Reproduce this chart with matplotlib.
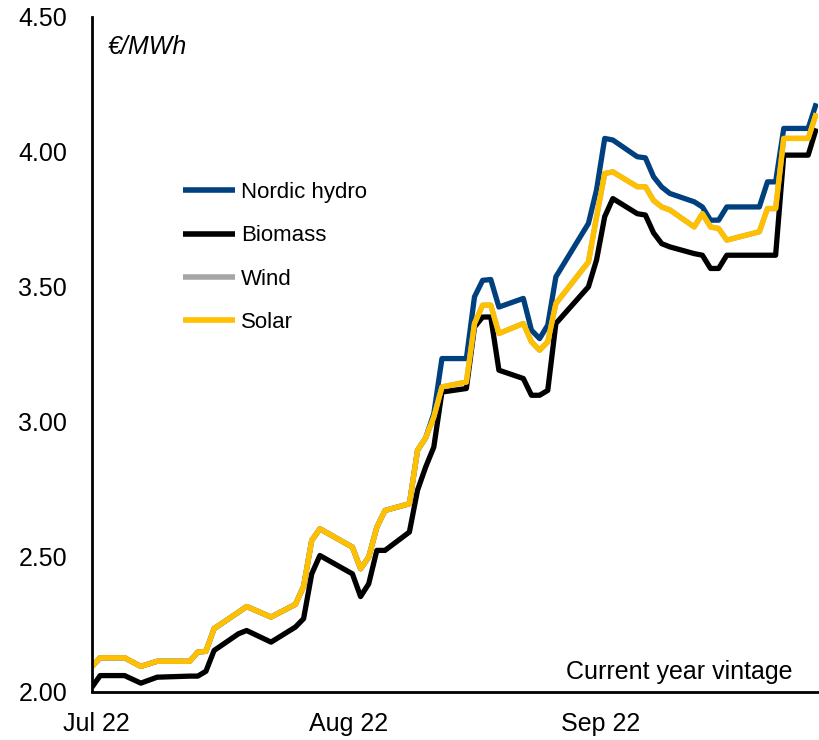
import matplotlib
matplotlib.use("Agg")
import matplotlib.pyplot as plt
import matplotlib.transforms as mtransforms
import numpy as np

plt.rcParams['font.family'] = ['Liberation Sans', 'DejaVu Sans']

dates = ["2022-07-01", "2022-07-02", "2022-07-05", "2022-07-07", "2022-07-09",
         "2022-07-13", "2022-07-14", "2022-07-15", "2022-07-16", "2022-07-19",
         "2022-07-20", "2022-07-23", "2022-07-26", "2022-07-27", "2022-07-28",
         "2022-07-29", "2022-08-02", "2022-08-03", "2022-08-04", "2022-08-05",
         "2022-08-06", "2022-08-09", "2022-08-10", "2022-08-11", "2022-08-12",
         "2022-08-13", "2022-08-16", "2022-08-17", "2022-08-18", "2022-08-19",
         "2022-08-20", "2022-08-23", "2022-08-24", "2022-08-25", "2022-08-26",
         "2022-08-27", "2022-08-31", "2022-09-01", "2022-09-02", "2022-09-03",
         "2022-09-06", "2022-09-07", "2022-09-08", "2022-09-09", "2022-09-10",
         "2022-09-13", "2022-09-14", "2022-09-15", "2022-09-16", "2022-09-17",
         "2022-09-21", "2022-09-22", "2022-09-23", "2022-09-24", "2022-09-27",
         "2022-09-28"]

nordic_hydro = [2.093, 2.125, 2.125, 2.093, 2.112, 2.112, 2.146, 2.149, 2.233, 2.294,
                2.315, 2.276, 2.323, 2.390, 2.560, 2.603, 2.535, 2.455, 2.498, 2.609,
                2.671, 2.696, 2.894, 2.940, 3.030, 3.234, 3.234, 3.463, 3.524, 3.527,
                3.425, 3.457, 3.339, 3.308, 3.358, 3.537, 3.735, 3.860, 4.050, 4.044,
                3.982, 3.978, 3.908, 3.870, 3.846, 3.815, 3.796, 3.747, 3.747, 3.796,
                3.796, 3.889, 3.889, 4.087, 4.087, 4.180]

biomass = [2.016, 2.059, 2.059, 2.031, 2.053, 2.057, 2.057, 2.075, 2.152, 2.214,
           2.226, 2.183, 2.239, 2.270, 2.436, 2.504, 2.436, 2.352, 2.399, 2.523,
           2.523, 2.591, 2.746, 2.832, 2.906, 3.110, 3.123, 3.351, 3.388, 3.388,
           3.191, 3.160, 3.098, 3.098, 3.116, 3.364, 3.500, 3.600, 3.760, 3.827,
           3.771, 3.766, 3.700, 3.660, 3.648, 3.623, 3.617, 3.568, 3.568, 3.617,
           3.617, 3.617, 3.617, 3.988, 3.988, 4.087]

wind = [2.093, 2.125, 2.125, 2.093, 2.112, 2.112, 2.146, 2.149, 2.233, 2.294,
        2.315, 2.276, 2.323, 2.390, 2.560, 2.603, 2.535, 2.455, 2.498, 2.609,
        2.671, 2.696, 2.894, 2.940, 3.017, 3.129, 3.147, 3.364, 3.432, 3.432,
        3.327, 3.364, 3.296, 3.265, 3.296, 3.438, 3.592, 3.760, 3.920, 3.926,
        3.871, 3.871, 3.820, 3.796, 3.785, 3.722, 3.771, 3.722, 3.716, 3.673,
        3.704, 3.790, 3.790, 4.050, 4.050, 4.143]

solar = [2.093, 2.125, 2.125, 2.093, 2.112, 2.112, 2.146, 2.149, 2.233, 2.294,
         2.315, 2.276, 2.323, 2.390, 2.560, 2.603, 2.535, 2.455, 2.498, 2.609,
         2.671, 2.696, 2.894, 2.940, 3.017, 3.129, 3.147, 3.364, 3.432, 3.432,
         3.327, 3.364, 3.296, 3.265, 3.296, 3.438, 3.592, 3.760, 3.920, 3.926,
         3.871, 3.871, 3.820, 3.796, 3.785, 3.722, 3.771, 3.722, 3.716, 3.673,
         3.704, 3.790, 3.790, 4.050, 4.050, 4.143]

series_names = ["Nordic hydro", "Biomass", "Wind", "Solar"]
series_colors = ["#00407F", "#000000", "#A6A6A6", "#FFC000"]

x_tick_dates = ["2022-07-01", "2022-08-01", "2022-09-01"]
x_tick_labels = ["Jul 22", "Aug 22", "Sep 22"]
y_ticks = [2.0, 2.5, 3.0, 3.5, 4.0, 4.5]

fig = plt.figure(figsize=(8.19, 7.40), dpi=100)
ax = fig.add_axes([92/819, 1 - 691.5/740, 726/819, 674.5/740])

x = np.array(dates, dtype="datetime64[D]")
for name, vals, col in zip(series_names, [nordic_hydro, biomass, wind, solar], series_colors):
    ax.plot(x, vals, color=col, lw=3.8, label=name, solid_joinstyle='round',
            solid_capstyle='butt')

ax.set_xlim(np.datetime64("2022-07-01"),
            np.datetime64("2022-07-01") + np.timedelta64(89, 'D') + np.timedelta64(5, 'h'))
ax.set_ylim(2.0, 4.5)
ax.set_yticks(y_ticks)
ax.set_yticklabels([f"{v:.2f}" for v in y_ticks])
ax.set_xticks(np.array(x_tick_dates, dtype="datetime64[D]"))
ax.set_xticklabels(x_tick_labels)
ax.tick_params(axis='both', length=0, labelsize=18, colors='black')
ax.tick_params(axis='y', pad=18)
ax.tick_params(axis='x', pad=15)
offset = mtransforms.ScaledTranslation(4/100, 0, fig.dpi_scale_trans)
for lab in ax.get_xticklabels():
    lab.set_transform(lab.get_transform() + offset)

for s in ['top', 'right']:
    ax.spines[s].set_visible(False)
for s in ['left', 'bottom']:
    ax.spines[s].set_linewidth(2)
    ax.spines[s].set_color('black')

ax.text(0.022, 0.9555, "€/MWh", transform=ax.transAxes, fontsize=18,
        style='italic', ha='left', va='center')
ax.text(0.9655, 0.029, "Current year vintage", transform=ax.transAxes,
        fontsize=18, ha='right', va='center')

leg = ax.legend(loc='upper left', bbox_to_anchor=(0.126, 0.755), frameon=False,
                fontsize=16, handlelength=2.3, handletextpad=0.3,
                labelspacing=1.0, borderaxespad=0, borderpad=0)
for h in leg.get_lines():
    h.set_linewidth(4)

fig.savefig("out.png", dpi=100)
